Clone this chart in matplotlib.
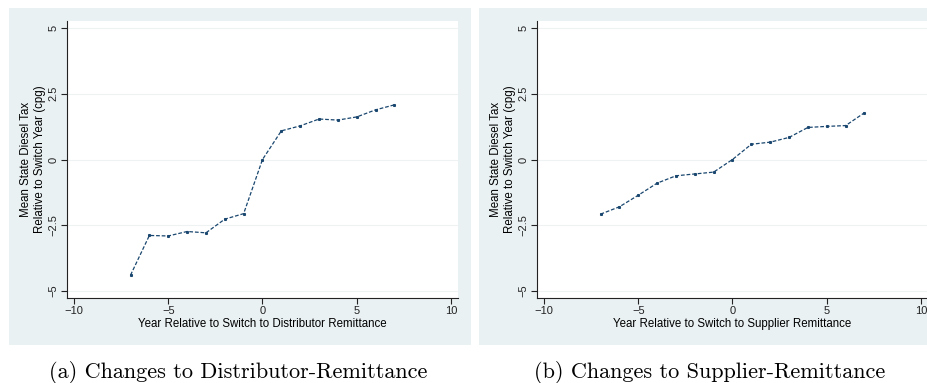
import numpy as np
import matplotlib
matplotlib.use("Agg")
import matplotlib.pyplot as plt
from matplotlib.patches import Rectangle

# event time
years = [-7, -6, -5, -4, -3, -2, -1, 0, 1, 2, 3, 4, 5, 6, 7]

# mean state diesel tax relative to switch year (cpg)
distributor = [-4.40, -2.89, -2.91, -2.74, -2.79, -2.27, -2.06, 0.0,
               1.09, 1.28, 1.54, 1.50, 1.62, 1.89, 2.08]
supplier = [-2.08, -1.80, -1.36, -0.90, -0.62, -0.55, -0.48, 0.0,
            0.58, 0.66, 0.84, 1.22, 1.26, 1.29, 1.78]

xticks = [-10, -5, 0, 5, 10]
yticks = [-5, -2.5, 0, 2.5, 5]
xlabels = ["Year Relative to Switch to Distributor Remittance",
           "Year Relative to Switch to Supplier Remittance"]
captions = ["(a) Changes to Distributor-Remittance",
            "(b) Changes to Supplier-Remittance"]
ylabel = "Mean State Diesel Tax\nRelative to Switch Year (cpg)"

W, H = 928, 383
fig = plt.figure(figsize=(W / 100, H / 100), dpi=100)
plt.rcParams['font.family'] = ['Liberation Sans', 'DejaVu Sans']

bg = "#EAF1F3"
line_col = "#1a476f"

# graph region backgrounds (pixel boxes)
for x0, x1 in [(9, 471), (479, 940)]:
    fig.add_artist(Rectangle((x0 / W, 1 - 345 / H), (x1 - x0) / W, 337 / H,
                             transform=fig.transFigure, facecolor=bg,
                             edgecolor="none", zorder=-5))

ax_w = 391 / W
ax_h = (298 - 21) / H
lefts = [67 / W, 537 / W]
series = [distributor, supplier]

for i in range(2):
    ax = fig.add_axes([lefts[i], 1 - 298 / H, ax_w, ax_h])
    ax.set_zorder(2)
    ax.set_facecolor("white")
    ax.plot(years, series[i], color=line_col, lw=0.9, ls=(0, (3, 1.5)),
            marker="s", ms=1.2, mfc=line_col, mec=line_col)
    ax.set_xlim(-10.37, 10.37)
    ax.set_ylim(-5.27, 5.27)
    ax.set_xticks(xticks)
    ax.set_yticks(yticks)
    ax.set_yticklabels(["\u22125", "\u22122.5", "0", "2.5", "5"], rotation=90,
                       va="center")
    ax.set_xticklabels(["\u221210", "\u22125", "0", "5", "10"])
    ax.tick_params(labelsize=8, length=4, width=0.8, colors="#222222", pad=2)
    ax.grid(axis="y", color="#EEF2F3", lw=0.8)
    ax.set_axisbelow(True)
    for s in ["top", "right"]:
        ax.spines[s].set_visible(False)
    for s in ["left", "bottom"]:
        ax.spines[s].set_color("#222222")
        ax.spines[s].set_linewidth(0.8)
    ax.set_xlabel(xlabels[i], fontsize=8.3, labelpad=1)
    ax.set_ylabel(ylabel, fontsize=8.3, labelpad=2)

fig.text(238 / W, 1 - 372 / H, captions[0], family="cmr10", fontsize=16,
         ha="center", va="center")
fig.text(710 / W, 1 - 372 / H, captions[1], family="cmr10", fontsize=16,
         ha="center", va="center")

fig.savefig("out.png", dpi=100, facecolor="white")
